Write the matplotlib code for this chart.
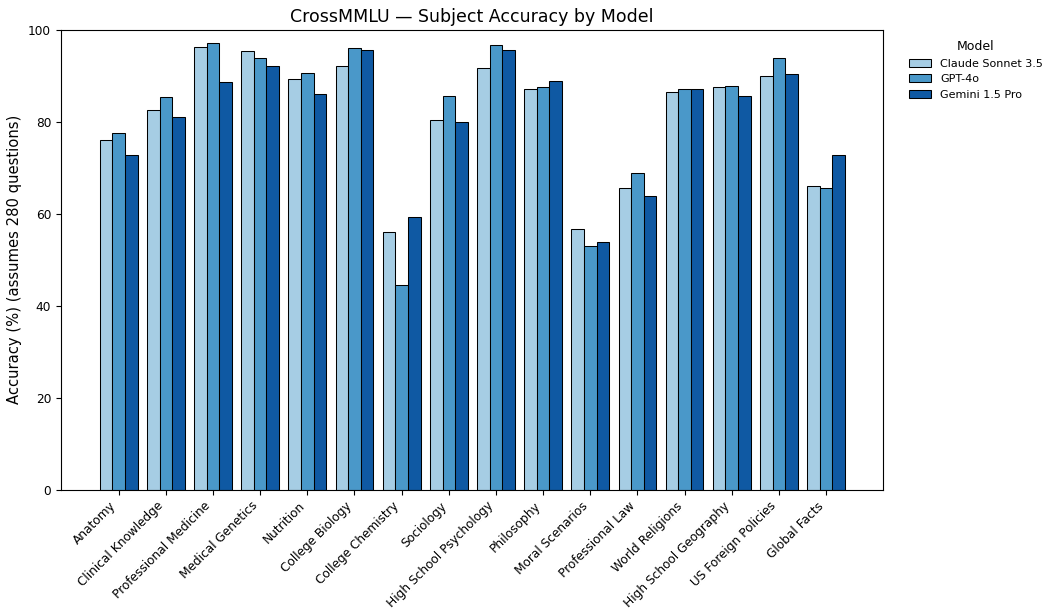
import numpy as np
import matplotlib
matplotlib.use("Agg")
import matplotlib.pyplot as plt

subjects = ["Anatomy", "Clinical Knowledge", "Professional Medicine", "Medical Genetics",
            "Nutrition", "College Biology", "College Chemistry", "Sociology",
            "High School Psychology", "Philosophy", "Moral Scenarios", "Professional Law",
            "World Religions", "High School Geography", "US Foreign Policies", "Global Facts"]

claude = [76.1, 82.5, 96.4, 95.4, 89.3, 92.1, 56.1, 80.4, 91.8, 87.1, 56.8, 65.7, 86.4, 87.5, 90.0, 66.1]
gpt4o = [77.5, 85.4, 97.1, 93.9, 90.7, 96.1, 44.6, 85.7, 96.8, 87.5, 52.9, 68.9, 87.1, 87.9, 93.9, 65.7]
gemini = [72.9, 81.1, 88.6, 92.1, 86.1, 95.7, 59.3, 80.0, 95.7, 88.9, 53.9, 63.9, 87.1, 85.7, 90.4, 72.9]

models = ["Claude Sonnet 3.5", "GPT-4o", "Gemini 1.5 Pro"]
colors = ["#a6cde4", "#4a98c9", "#0f59a3"]

fig, ax = plt.subplots(figsize=(10.47, 6.12), dpi=100)
fig.subplots_adjust(left=0.058, right=0.843, top=0.951, bottom=0.2)

x = np.arange(len(subjects))
w = 0.8 / 3
for i, (vals, name) in enumerate(zip([claude, gpt4o, gemini], models)):
    ax.bar(x + (i - 1) * w, vals, w, color=colors[i], edgecolor="black",
           linewidth=0.75, label=name)

ax.set_xlim(-1.23, 16.2)
ax.set_ylim(0, 100)
ax.set_xticks(x)
ax.set_xticklabels(subjects, rotation=45, ha="right", fontsize=8.7)
ax.tick_params(axis="y", labelsize=8.7)
ax.set_ylabel("Accuracy (%) (assumes 280 questions)", fontsize=10.6)
ax.set_title("CrossMMLU — Subject Accuracy by Model", fontsize=12.5)
ax.legend(title="Model", loc="upper left", bbox_to_anchor=(1.02, 1.0),
          frameon=False, fontsize=8, title_fontsize=9)

fig.savefig("out.png", dpi=100)
